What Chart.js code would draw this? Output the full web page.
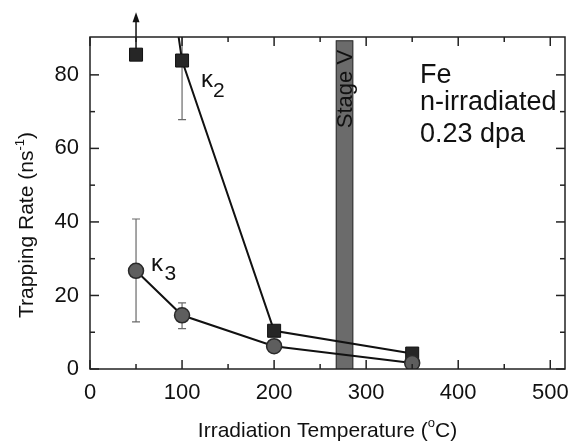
<!DOCTYPE html>
<html><head><meta charset="utf-8">
<script src="https://cdn.jsdelivr.net/npm/chart.js@4/dist/chart.umd.min.js"></script>
<style>html,body{margin:0;padding:0;background:#fff}</style>
</head><body>
<canvas id="c" width="570" height="441"></canvas>
<script>
// ---- data ----
const temps = [50, 100, 200, 350];
const kappa2 = [170, 83.9, 10.4, 4.2];          // first point off-scale (line leaves the frame)
const kappa2ErrLow = [null, 67.8, null, null];
const kappa2ErrHigh = [null, 100, null, null];
const kappa2BoundTemp = [50];                   // lower-bound marker with arrow
const kappa2Bound = [85.5];
const kappa2ArrowTip = [97];
const kappa3 = [26.7, 14.6, 6.2, 1.6];
const kappa3ErrLow = [12.8, 11.0, null, null];
const kappa3ErrHigh = [40.8, 18.0, null, null];
const stageV = [267, 286];
const stageVTop = [89.4];
const xTicks = [0, 100, 200, 300, 400, 500];
const xMinorTicks = [50, 150, 250, 350, 450];
const yTicks = [0, 20, 40, 60, 80];
const yMinorTicks = [10, 30, 50, 70];

const FONT = '"Liberation Sans", Arial, Helvetica, sans-serif';

function pts(xs, ys) { return xs.map((x, i) => ({x: x, y: ys[i]})); }

const decor = {
  id: 'decor',
  beforeDatasetsDraw(chart) {
    const {ctx, chartArea: a, scales: {x, y}} = chart;
    ctx.save();
    ctx.beginPath(); ctx.rect(a.left, a.top, a.right - a.left, a.bottom - a.top); ctx.clip();
    // Stage V band
    const bx0 = x.getPixelForValue(stageV[0]), bx1 = x.getPixelForValue(stageV[1]);
    const by0 = y.getPixelForValue(stageVTop[0]), by1 = y.getPixelForValue(0);
    ctx.fillStyle = '#6b6b6b';
    ctx.fillRect(bx0, by0, bx1 - bx0, by1 - by0);
    ctx.strokeStyle = '#333'; ctx.lineWidth = 1;
    ctx.strokeRect(bx0 + 0.5, by0 + 0.5, bx1 - bx0 - 1, by1 - by0);
    // error bars
    ctx.strokeStyle = '#6a6a6a'; ctx.lineWidth = 1.2;
    const bars = (lo, hi) => temps.forEach((t, i) => {
      if (lo[i] == null) return;
      const px = x.getPixelForValue(t), p0 = y.getPixelForValue(lo[i]), p1 = y.getPixelForValue(hi[i]);
      ctx.beginPath();
      ctx.moveTo(px, p0); ctx.lineTo(px, p1);
      ctx.moveTo(px - 4, p0); ctx.lineTo(px + 4, p0);
      ctx.moveTo(px - 4, p1); ctx.lineTo(px + 4, p1);
      ctx.stroke();
    });
    bars(kappa2ErrLow, kappa2ErrHigh);
    bars(kappa3ErrLow, kappa3ErrHigh);
    ctx.restore();
    // Stage V text
    ctx.save();
    ctx.translate(bx1 - 1.5, y.getPixelForValue(65.5));
    ctx.rotate(-Math.PI / 2);
    ctx.font = '22px ' + FONT; ctx.fillStyle = '#111';
    ctx.textBaseline = 'alphabetic'; ctx.textAlign = 'left';
    ctx.fillText('Stage V', 0, 0);
    ctx.restore();
  },
  afterDatasetsDraw(chart) {
    const {ctx, chartArea: a, scales: {x, y}} = chart;
    ctx.save();
    // arrow
    const ax = x.getPixelForValue(kappa2BoundTemp[0]);
    const ay0 = y.getPixelForValue(kappa2Bound[0]) - 6;
    const ay1 = y.getPixelForValue(kappa2ArrowTip[0]);
    ctx.strokeStyle = '#111'; ctx.lineWidth = 1.5;
    ctx.beginPath(); ctx.moveTo(ax, ay0); ctx.lineTo(ax, ay1 + 8); ctx.stroke();
    ctx.fillStyle = '#111';
    ctx.beginPath(); ctx.moveTo(ax, ay1); ctx.lineTo(ax - 3.5, ay1 + 10); ctx.lineTo(ax + 3.5, ay1 + 10); ctx.closePath(); ctx.fill();
    // frame
    ctx.strokeStyle = '#222'; ctx.lineWidth = 1.5;
    ctx.strokeRect(a.left, a.top, a.right - a.left, a.bottom - a.top);
    // inward ticks
    const tick = (x0, y0, x1, y1) => { ctx.beginPath(); ctx.moveTo(x0, y0); ctx.lineTo(x1, y1); ctx.stroke(); };
    xTicks.forEach(v => { const p = x.getPixelForValue(v); tick(p, a.bottom, p, a.bottom - 9); tick(p, a.top, p, a.top + 9); });
    xMinorTicks.forEach(v => { const p = x.getPixelForValue(v); tick(p, a.bottom, p, a.bottom - 5); tick(p, a.top, p, a.top + 5); });
    yTicks.forEach(v => { const p = y.getPixelForValue(v); tick(a.left, p, a.left + 9, p); tick(a.right, p, a.right - 9, p); });
    yMinorTicks.forEach(v => { const p = y.getPixelForValue(v); tick(a.left, p, a.left + 5, p); tick(a.right, p, a.right - 5, p); });
    // annotation
    ctx.fillStyle = '#111'; ctx.textAlign = 'left'; ctx.textBaseline = 'alphabetic';
    ctx.font = '27px ' + FONT;
    ctx.fillText('Fe', 420, 83);
    ctx.fillText('n-irradiated', 420, 110);
    ctx.fillText('0.23 dpa', 420, 142);
    // kappa labels
    ctx.font = '24px ' + FONT; ctx.fillText('\u03BA', 201, 87);
    ctx.font = '21px ' + FONT; ctx.fillText('2', 213, 97);
    ctx.font = '24px ' + FONT; ctx.fillText('\u03BA', 151, 271);
    ctx.font = '21px ' + FONT; ctx.fillText('3', 164.5, 280);
    // axis titles
    const parts = (list) => { let w = 0; list.forEach(p => { ctx.font = p[1] + 'px ' + FONT; w += ctx.measureText(p[0]).width; }); return w; };
    const drawParts = (list, sx) => { let cx = sx; list.forEach(p => { ctx.font = p[1] + 'px ' + FONT; ctx.fillText(p[0], cx, p[2]); cx += ctx.measureText(p[0]).width; }); };
    const xt = [['Irradiation Temperature (', 21, 0], ['o', 13, -10], ['C)', 21, 0]];
    const xw = parts(xt);
    ctx.save(); ctx.translate((a.left + a.right) / 2, 437); drawParts(xt, -xw / 2); ctx.restore();
    const yt = [['Trapping Rate (ns', 21, 0], ['-1', 13, -9], [')', 21, 0]];
    const yw = parts(yt);
    ctx.save(); ctx.translate(33, 225); ctx.rotate(-Math.PI / 2); drawParts(yt, -yw / 2); ctx.restore();
    ctx.restore();
  }
};

new Chart(document.getElementById('c'), {
  type: 'line',
  data: {
    datasets: [
      { label: 'kappa3', data: pts(temps, kappa3), order: 0,
        borderColor: '#111', borderWidth: 2, tension: 0,
        pointStyle: 'circle', pointRadius: 7.5, pointBackgroundColor: '#5e5e5e', pointBorderColor: '#2a2a2a', pointBorderWidth: 1.5 },
      { label: 'kappa2', data: pts(temps, kappa2), order: 1,
        borderColor: '#111', borderWidth: 2, tension: 0,
        pointStyle: 'rect', pointRadius: ctx => ctx.dataIndex === 0 ? 0 : 9.2,
        pointBackgroundColor: '#262626', pointBorderColor: '#111', pointBorderWidth: 1 },
      { label: 'kappa2 bound', data: pts(kappa2BoundTemp, kappa2Bound), order: 1, showLine: false,
        pointStyle: 'rect', pointRadius: 9.2, pointBackgroundColor: '#262626', pointBorderColor: '#111', pointBorderWidth: 1 }
    ]
  },
  options: {
    responsive: false, animation: false, devicePixelRatio: 1,
    layout: { autoPadding: false, padding: { top: 37, right: 5, left: 0, bottom: 0 } },
    plugins: { legend: { display: false }, tooltip: { enabled: false } },
    scales: {
      x: { type: 'linear', min: 0, max: 516,
        afterBuildTicks: s => { s.ticks = xTicks.map(v => ({value: v})); },
        afterFit: s => { s.height = 72; s.paddingLeft = 0; s.paddingRight = 0; },
        grid: { display: false, drawTicks: false }, border: { display: false },
        ticks: { font: { family: FONT, size: 22 }, color: '#111', padding: 11, maxRotation: 0, autoSkip: false } },
      y: { type: 'linear', min: 0, max: 90.3,
        afterBuildTicks: s => { s.ticks = yTicks.map(v => ({value: v})); },
        afterFit: s => { s.width = 90; s.paddingTop = 0; s.paddingBottom = 0; },
        grid: { display: false, drawTicks: false }, border: { display: false },
        ticks: { font: { family: FONT, size: 22 }, color: '#111', padding: 11, autoSkip: false } }
    }
  },
  plugins: [decor]
});
</script>
</body></html>
